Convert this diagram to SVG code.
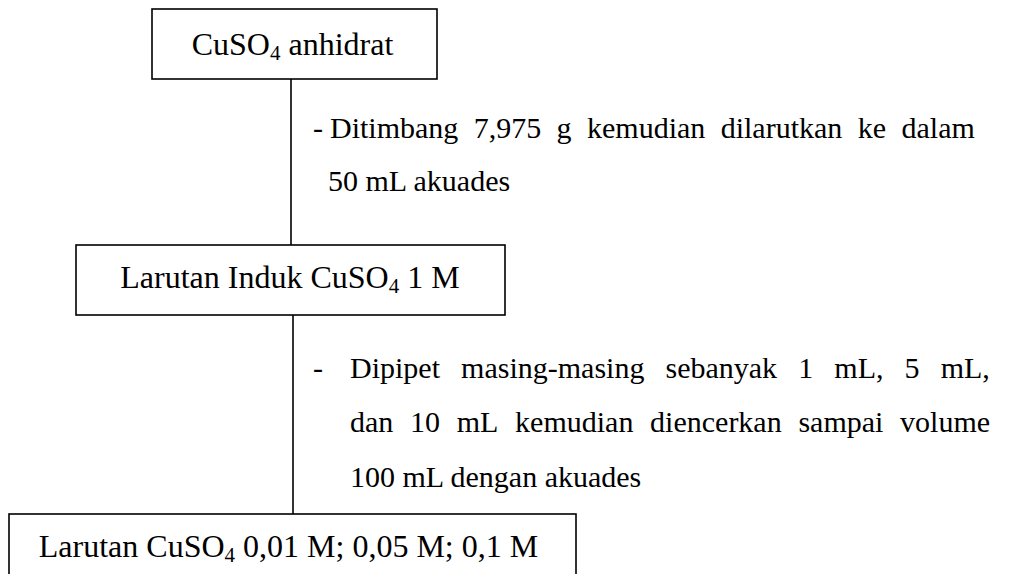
<svg xmlns="http://www.w3.org/2000/svg" width="1012" height="574" viewBox="0 0 1012 574">
<style>
.box{fill:#fff;stroke:#000;stroke-width:1.6}
.ln{stroke:#000;stroke-width:1.6;fill:none}
text{font-family:"Liberation Serif","Times New Roman",serif;font-size:30px;fill:#000}
.big{font-size:32px}
.sub{font-size:21px}
</style>
<rect width="1012" height="574" fill="#fff"/>
<g id="connectors">
<line class="ln" x1="291" y1="79" x2="291" y2="245"/>
<line class="ln" x1="293" y1="315" x2="293" y2="514"/>
</g>
<g id="node1">
<rect class="box" x="152" y="9" width="285" height="70"/>
<text class="big" x="292.5" y="55" text-anchor="middle">CuSO<tspan class="sub" dy="5">4</tspan><tspan dy="-5"> anhidrat</tspan></text>
</g>
<g id="step1">
<text y="138"><tspan x="313">-</tspan><tspan x="330">Ditimbang</tspan><tspan x="473.7">7,975</tspan><tspan x="556.6">g</tspan><tspan x="587">kemudian</tspan><tspan x="720.7">dilarutkan</tspan><tspan x="857.8">ke</tspan><tspan x="901.5">dalam</tspan></text>
<text x="328" y="191">50 mL akuades</text>
</g>
<g id="node2">
<rect class="box" x="76" y="245" width="429" height="70"/>
<text class="big" x="290" y="288" text-anchor="middle">Larutan Induk CuSO<tspan class="sub" dy="5">4</tspan><tspan dy="-5"> 1 M</tspan></text>
</g>
<g id="step2">
<text x="313" y="378">-</text>
<text y="378"><tspan x="350">Dipipet</tspan><tspan x="461.1">masing-masing</tspan><tspan x="665.5">sebanyak</tspan><tspan x="798.2">1</tspan><tspan x="834.3">mL,</tspan><tspan x="904.6">5</tspan><tspan x="940.7">mL,</tspan></text>
<text y="432"><tspan x="350">dan</tspan><tspan x="410">10</tspan><tspan x="456.7">mL</tspan><tspan x="515.1">kemudian</tspan><tspan x="650.1">diencerkan</tspan><tspan x="798.4">sampai</tspan><tspan x="900.1">volume</tspan></text>
<text x="350" y="487">100 mL dengan akuades</text>
</g>
<g id="node3">
<rect class="box" x="9" y="514" width="567" height="80"/>
<text class="big" x="288.5" y="557" text-anchor="middle">Larutan CuSO<tspan class="sub" dy="5">4</tspan><tspan dy="-5"> 0,01 M; 0,05 M; 0,1 M</tspan></text>
</g>
</svg>
